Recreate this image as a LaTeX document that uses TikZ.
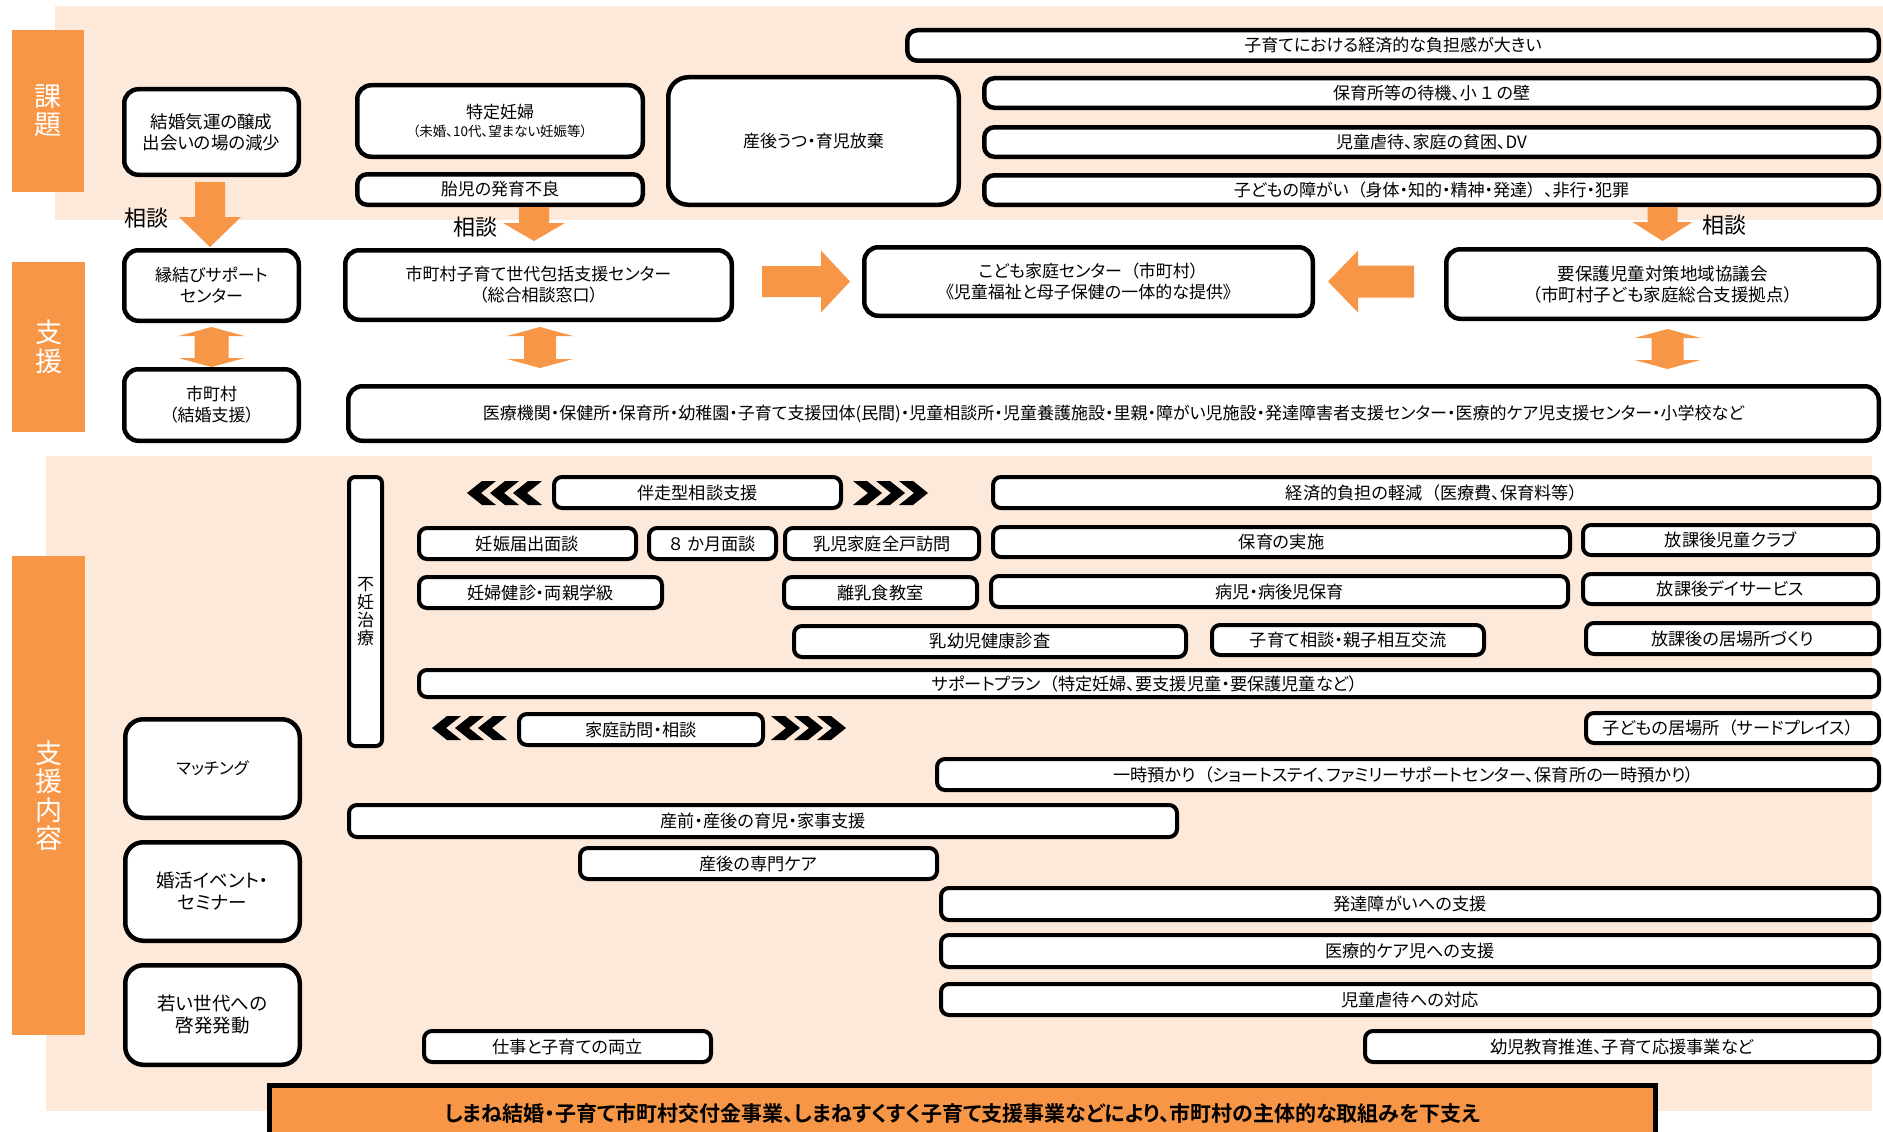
\documentclass[tikz,border=0pt]{standalone}
\usepackage{fontspec}
\setmainfont{Noto Sans CJK JP}[RawFeature=+palt,BoldFont={Noto Sans CJK JP Bold}]
\usetikzlibrary{calc}
\definecolor{org}{HTML}{F79646}
\definecolor{peach}{HTML}{FDE9D9}
\newcommand\fs[2]{\fontsize{#1}{#2}\selectfont}
\newcommand\LP{\kern0.5em（}
\newcommand\RP{）\kern0.5em}
\tikzset{
  box/.style={draw=black, line width=4.5pt, rounded corners=10pt, fill=white, inner sep=0pt, align=center, font=\fs{17}{21}},
  lbox/.style={draw=black, line width=4pt, rounded corners=8pt, fill=white, inner sep=0pt, align=center, font=\fs{17.2}{19}},
  lab/.style={fill=org, inner sep=0pt, align=center, text=white, font=\fs{27}{28.5}},
  talk/.style={inner sep=0pt, font=\fs{22}{24}},
}
% boxes: [opts]{name}{x1}{y1}{x2}{y2}{text}
\newcommand\bx[7][]{\node[box,#1,minimum width={#5-#3-4.5},minimum height={#6-#4-4.5}] (#2) at ({(#3+#5)/2},{(#4+#6)/2}) {#7};}
\newcommand\lb[7][]{\node[lbox,#1,minimum width={#5-#3-4},minimum height={#6-#4-4}] (#2) at ({(#3+#5)/2},{(#4+#6)/2}) {#7};}
% single block arrow: start, tip, body half, head half, head length
\newcommand\sarrow[5]{%
  \coordinate (ah) at ($(#2)!#5!(#1)$);
  \fill[org] ($(#1)!#3!90:(#2)$) -- ($(ah)!#3!90:(#2)$) -- ($(ah)!#4!90:(#2)$) -- (#2)
    -- ($(ah)!#4!-90:(#2)$) -- ($(ah)!#3!-90:(#2)$) -- ($(#1)!#3!-90:(#2)$) -- cycle;}
% double block arrow
\newcommand\darrow[5]{%
  \coordinate (ha) at ($(#1)!#5!(#2)$);
  \coordinate (hb) at ($(#2)!#5!(#1)$);
  \fill[org] (#1) -- ($(ha)!#4!90:(#2)$) -- ($(ha)!#3!90:(#2)$) -- ($(hb)!#3!90:(#2)$) -- ($(hb)!#4!90:(#2)$) -- (#2)
    -- ($(hb)!#4!-90:(#2)$) -- ($(hb)!#3!-90:(#2)$) -- ($(ha)!#3!-90:(#2)$) -- ($(ha)!#4!-90:(#2)$) -- cycle;}
% chevrons
\newcommand\chevR[2]{\fill[black] ({#1},{#2}) -- ++(14,0) -- ++(15,12) -- ++(-15,12) -- ++(-14,0) -- ++(15,-12) -- cycle;}
\newcommand\chevL[2]{\fill[black] ({#1},{#2+12}) -- ++(15,-12) -- ++(14,0) -- ++(-15,12) -- ++(15,12) -- ++(-14,0) -- cycle;}
\begin{document}
\begin{tikzpicture}[x=1pt,y=-1pt]
\useasboundingbox[fill=white] (0,0) rectangle (1883,1132);
% backgrounds
\fill[peach] (55,6) rectangle (1883,220);
\fill[peach] (46,456) rectangle (1872,1111);
% section labels
\node[lab,minimum width=72,minimum height=162] (t1) at (48,111) {課\\題};
\node[lab,minimum width=73,minimum height=170] (t2) at (48.5,347) {支\\援};
\node[lab,minimum width=73,minimum height=479] (t3) at (48.5,795.5) {支\\援\\内\\容};

% ---- issues row
\bx[rounded corners=14pt,font=\fs{17.5}{21}]{A1}{122}{87}{301}{177}{結婚気運の醸成\\出会いの場の減少}
\bx[rounded corners=14pt]{A2}{355}{83}{645}{159}{特定妊婦\\[-3pt]{\fs{13.5}{15}（未婚、10代、望まない妊娠等）}}
\bx{A3}{355}{172}{645}{207}{胎児の発育不良}
\bx[rounded corners=20pt]{A4}{666}{75}{961}{207}{産後うつ・育児放棄}
\bx{A5}{905}{28}{1881}{63}{子育てにおける経済的な負担感が大きい}
\bx{A6}{982}{76}{1881}{110}{保育所等の待機、小\kern0.2em１\kern0.2em の壁}
\bx{A7}{982}{125}{1881}{159}{児童虐待、家庭の貧困、DV}
\bx{A8}{982}{173}{1881}{207}{子どもの障がい\LP 身体・知的・精神・発達\RP 、非行・犯罪}

% ---- support row
\bx[rounded corners=14pt]{B1}{122}{248}{301}{323}{縁結びサポート\\センター}
\bx[rounded corners=14pt]{B2}{343}{248}{734}{322}{市町村子育て世代包括支援センター\\（総合相談窓口）}
\bx[rounded corners=14pt]{B3}{862}{245}{1315}{318}{こども家庭センター\LP 市町村）\\《児童福祉と母子保健の一体的な提供》}
\bx[rounded corners=14pt,font=\fs{17.5}{21}]{B4}{1444}{247}{1881}{321}{要保護児童対策地域協議会\\（市町村子ども家庭総合支援拠点）}
\bx[rounded corners=14pt]{B5}{122}{367}{301}{443}{市町村\\（結婚支援）}
\bx[rounded corners=14pt]{B6}{346}{384}{1881}{443}{医療機関・保健所・保育所・幼稚園・子育て支援団体(民間)・児童相談所・児童養護施設・里親・障がい児施設・発達障害者支援センター・医療的ケア児支援センター・小学校など}

% ---- arrows (consultation)
\coordinate (a1s) at ($(A1.south)+(-1.5,5)$);
\coordinate (a1e) at ($(B1.north)+(-1.5,-1)$);
\sarrow{a1s}{a1e}{15pt}{31pt}{30pt}
\coordinate (a2s) at ($(A3.south -| B2.north)+(-4.5,0)$);
\coordinate (a2e) at ($(B2.north)+(-4.5,-7)$);
\sarrow{a2s}{a2e}{15pt}{31pt}{18pt}
\coordinate (a3s) at ($(A8.south -| B4.north)$);
\coordinate (a3e) at ($(B4.north)+(0,-6)$);
\sarrow{a3s}{a3e}{15pt}{30pt}{19pt}
\coordinate (a4s) at ($(B2.east |- B3.west)+(28,0)$);
\coordinate (a4e) at ($(B3.west)+(-12,0)$);
\sarrow{a4s}{a4e}{15.5pt}{31pt}{29pt}
\coordinate (a5s) at ($(B4.west |- B3.east)+(-30,0)$);
\coordinate (a5e) at ($(B3.east)+(13,0)$);
\sarrow{a5s}{a5e}{16pt}{31pt}{30pt}
\node[talk] (c1) at (146,218) {相談};
\node[talk] (c2) at (475,227) {相談};
\node[talk] (c3) at (1724,225) {相談};

% ---- double arrows
\coordinate (d1s) at ($(B1.south)+(0,4)$);
\coordinate (d1e) at ($(B5.north)+(0,0)$);
\darrow{d1s}{d1e}{17pt}{33pt}{9pt}
\coordinate (d2s) at ($(B2.south)+(1.5,5)$);
\coordinate (d2e) at ($(B6.north -| B2.south)+(1.5,-16)$);
\darrow{d2s}{d2e}{16pt}{33pt}{9pt}
\coordinate (d3s) at ($(B4.south)+(5,8)$);
\coordinate (d3e) at ($(B6.north -| B4.south)+(5,-15)$);
\darrow{d3s}{d3e}{16pt}{33pt}{9pt}

% ---- support contents
\lb[rounded corners=6pt,font=\fs{17}{18}]{U1}{347}{475}{384}{748}{不\\妊\\治\\療}
\lb{U2}{552}{475}{843}{510}{伴走型相談支援}
\lb{U3}{991}{475}{1881}{510}{経済的負担の軽減\LP 医療費、保育料等\RP}
\lb{U4}{417}{526}{638}{561}{妊娠届出面談}
\lb{U5}{647}{526}{778}{561}{８\kern0.3em か月面談}
\lb{U6}{783}{526}{981}{561}{乳児家庭全戸訪問}
\lb{U7}{991}{525}{1572}{559}{保育の実施}
\lb{U8}{1581}{523}{1880}{557}{放課後児童クラブ}
\lb{U9}{417}{575}{664}{610}{妊婦健診・両親学級}
\lb{U10}{782}{575}{979}{610}{離乳食教室}
\lb{U11}{989}{574}{1570}{609}{病児・病後児保育}
\lb{U12}{1581}{572}{1880}{606}{放課後デイサービス}
\lb{U13}{792}{624}{1188}{659}{乳幼児健康診査}
\lb{U14}{1210}{623}{1486}{657}{子育て相談・親子相互交流}
\lb{U15}{1584}{621}{1881}{656}{放課後の居場所づくり}
\lb{U16}{417}{668}{1881}{699}{サポートプラン\LP 特定妊婦、要支援児童・要保護児童など\RP}
\lb{U17}{517}{712}{765}{747}{家庭訪問・相談}
\lb{U18}{1584}{711}{1881}{745}{子どもの居場所\LP サードプレイス\RP}
\lb{U19}{935}{757}{1881}{792}{一時預かり\LP ショートステイ、ファミリーサポートセンター、保育所の一時預かり\RP}
\lb{U20}{347}{803}{1179}{839}{産前・産後の育児・家事支援}
\lb{U21}{578}{846}{939}{881}{産後の専門ケア}
\lb{U22}{939}{886}{1881}{922}{発達障がいへの支援}
\lb{U23}{939}{933}{1881}{969}{医療的ケア児への支援}
\lb{U24}{939}{982}{1881}{1017}{児童虐待への対応}
\lb{U25}{422}{1029}{713}{1064}{仕事と子育ての両立}
\lb{U26}{1363}{1029}{1881}{1064}{幼児教育推進、子育て応援事業など}
\bx[rounded corners=18pt,font=\fs{16.5}{21}]{L1}{123}{717}{302}{820}{マッチング}
\bx[rounded corners=18pt,font=\fs{18.5}{22}]{L2}{123}{840}{302}{943}{婚活イベント・\\セミナー}
\bx[rounded corners=18pt,font=\fs{18.5}{22}]{L3}{123}{963}{302}{1067}{若い世代への\\啓発発動}

% chevrons
\chevL{467}{481}\chevL{490}{481}\chevL{513}{481}
\chevR{853}{481}\chevR{876}{481}\chevR{899}{481}
\chevL{432}{716}\chevL{455}{716}\chevL{478}{716}
\chevR{771}{716}\chevR{794}{716}\chevR{817}{716}

% bottom banner
\node[draw=black, line width=5pt, fill=org, inner sep=0pt, minimum width=1386, minimum height=60, font=\fs{21}{24}\bfseries] (F) at (962.5,1115.5) {\raisebox{6pt}{しまね結婚・子育て市町村交付金事業、しまねすくすく子育て支援事業などにより、市町村の主体的な取組みを下支え}};
\end{tikzpicture}
\end{document}
